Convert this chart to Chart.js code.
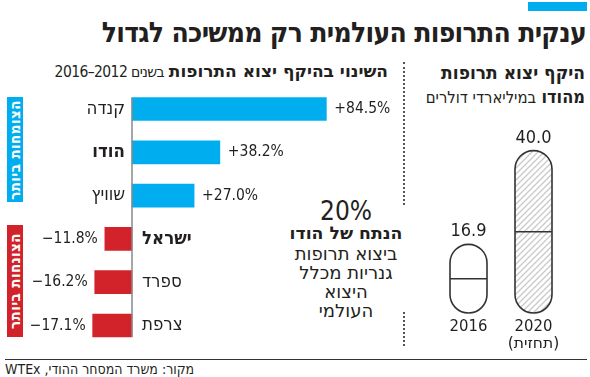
<!DOCTYPE html>
<html lang="he">
<head>
<meta charset="utf-8">
<title>ענקית התרופות העולמית</title>
<script src="https://cdn.jsdelivr.net/npm/chart.js@4"></script>
<style>
    html, body { margin: 0; padding: 0; background: #fff; }
    body { width: 590px; height: 377px; position: relative; overflow: hidden;
           font-family: "DejaVu Sans Condensed", "DejaVu Sans", sans-serif; color: #231f20; }
    .abs { position: absolute; white-space: nowrap; }
    .rtl { direction: rtl; }
    .wide { font-family: "DejaVu Sans", sans-serif; }
    #topbar { left: 528px; top: 2px; width: 59px; height: 9px; background: #00aeef; }
    #title { right: 4px; top: 16px; font-size: 28px; font-weight: bold; letter-spacing: -0.7px; }
    #subLeft { right: 202px; top: 61px; font-size: 17px; }
    #subLeft .yrs { font-size: 15.5px; letter-spacing: -0.6px; }
    #subRight { right: 5px; top: 60px; font-size: 19px; line-height: 24px; text-align: right; }
    #subRight .reg { font-size: 16.5px; }
    b { font-weight: bold; }
    .band { width: 16px; left: 7px; color: #fff; font-weight: bold; font-size: 15px; letter-spacing: 0.4px; }
    .band span { position: absolute; left: 50%; top: 50%; transform: translate(-50%, -50%) rotate(-90deg); }
    #bandUp { top: 97px; height: 105px; background: #00aeef; }
    #bandDown { top: 225px; height: 112px; background: #d2232a; }
    .share { left: 266px; width: 160px; text-align: center; font-size: 18px; line-height: 19px;
             font-family: "DejaVu Sans", sans-serif; }
    .dots { left: 403px; width: 0; border-left: 2px dotted #555; }
    #bottomLine { left: 5px; top: 359px; width: 582px; height: 0; border-top: 1.5px solid #333; }
    #source { left: 5px; top: 361px; font-size: 14px; }
    canvas { position: absolute; }
</style>
</head>
<body>
<div id="topbar" class="abs"></div>
<div id="title" class="abs rtl">ענקית התרופות העולמית רק ממשיכה לגדול</div>
<div id="subLeft" class="abs rtl"><b class="wide">השינוי בהיקף יצוא התרופות</b> <span class="yrs">בשנים 2012–2016</span></div>
<div id="subRight" class="abs rtl"><b>היקף יצוא תרופות</b><br><b style="font-size:18px">מהודו</b> <span class="reg">במיליארדי דולרים</span></div>
<div id="bandUp" class="abs band rtl"><span>הצומחות ביותר</span></div>
<div id="bandDown" class="abs band rtl"><span>הצונחות ביותר</span></div>

<div class="abs share rtl" style="top:197px;font-size:26px;line-height:28px;font-family:'DejaVu Sans Condensed','DejaVu Sans',sans-serif">20%</div>
<div class="abs share rtl" style="top:224px;font-weight:bold;font-size:17.3px">הנתח של הודו</div>
<div class="abs share rtl" style="top:244px">ביצוא תרופות</div>
<div class="abs share rtl" style="top:263px">גנריות מכלל</div>
<div class="abs share rtl" style="top:282px">היצוא</div>
<div class="abs share rtl" style="top:301px">העולמי</div>

<div class="abs dots" style="top:62px;height:143px"></div>
<div class="abs dots" style="top:312px;height:34px"></div>
<div id="bottomLine" class="abs"></div>
<div id="source" class="abs rtl">מקור: משרד המסחר ההודי, WTEx</div>

<canvas id="changeChart" width="400" height="265" style="left:0;top:85px"></canvas>
<canvas id="pillChart" width="130" height="245" style="left:436px;top:110px"></canvas>

<script>
// Change in drug exports 2012-2016 (%)
const countries = ['קנדה', 'הודו', 'שוויץ', 'ישראל', 'ספרד', 'צרפת'];
const changePct = [84.5, 38.2, 27.0, -11.8, -16.2, -17.1];
const boldCountries = ['הודו', 'ישראל'];

// India drug exports, billions of dollars
const years = ['2016', '2020'];
const yearNotes = ['', '(תחזית)'];
const exportsBn = [16.9, 40.0];

const BLUE = '#00aeef';
const RED = '#d2232a';
const INK = '#231f20';
const FONT = '"DejaVu Sans Condensed", "DejaVu Sans", sans-serif';
const HEB = '"DejaVu Sans", sans-serif';

function fmtPct(v) {
    const s = Math.abs(v).toFixed(1) + '%';
    return (v >= 0 ? '+' : '\u2212') + s;
}

// axis line + category names + value labels
const changeLabels = {
    id: 'changeLabels',
    afterDatasetsDraw(chart) {
        const ctx = chart.ctx;
        const xs = chart.scales.x;
        const x0 = xs.getPixelForValue(0);
        const bars = chart.getDatasetMeta(0).data;

        ctx.save();
        ctx.strokeStyle = '#8a8a8a';
        ctx.lineWidth = 1.5;
        ctx.beginPath();
        ctx.moveTo(x0, bars[0].y - bars[0].height / 2);
        ctx.lineTo(x0, bars[bars.length - 1].y + bars[bars.length - 1].height / 2);
        ctx.stroke();

        ctx.fillStyle = INK;
        ctx.textBaseline = 'middle';
        bars.forEach((bar, i) => {
            const v = changePct[i];
            const bold = boldCountries.includes(countries[i]);
            ctx.font = (bold ? 'bold ' : '') + '18.5px ' + FONT;
            if (v >= 0) {
                ctx.textAlign = 'right';
                ctx.fillText(countries[i], x0 - 7, bar.y);
            } else {
                ctx.textAlign = 'left';
                ctx.fillText(countries[i], x0 + 10, bar.y);
            }
            ctx.font = '15.5px ' + FONT;
            if (v >= 0) {
                ctx.textAlign = 'left';
                ctx.fillText(fmtPct(v), bar.x + 8, bar.y);
            } else {
                ctx.textAlign = 'right';
                ctx.fillText(fmtPct(v), bar.x - 7, bar.y);
            }
        });
        ctx.restore();
    }
};

new Chart(document.getElementById('changeChart'), {
    type: 'bar',
    data: {
        labels: countries,
        datasets: [{
            data: changePct,
            backgroundColor: changePct.map(v => v >= 0 ? BLUE : RED),
            barThickness: 23
        }]
    },
    options: {
        indexAxis: 'y',
        responsive: false,
        animation: false,
        layout: { padding: { left: 40, right: 15, top: 2.35, bottom: 2.85 } },
        scales: {
            x: { display: false, min: -40, max: 110 },
            y: { display: false }
        },
        plugins: { legend: { display: false }, tooltip: { enabled: false } }
    },
    plugins: [changeLabels]
});

// hatch pattern for the forecast pill
function makeHatch() {
    const c = document.createElement('canvas');
    c.width = 6; c.height = 6;
    const g = c.getContext('2d');
    g.fillStyle = '#fff';
    g.fillRect(0, 0, 6, 6);
    g.strokeStyle = '#c9c9c9';
    g.lineWidth = 1.3;
    g.beginPath();
    g.moveTo(0, 6); g.lineTo(6, 0);
    g.moveTo(-3, 3); g.lineTo(3, -3);
    g.moveTo(3, 9); g.lineTo(9, 3);
    g.stroke();
    return g.createPattern(c, 'repeat');
}

function pillPath(ctx, cx, top, bottom, w) {
    const r = w / 2;
    ctx.beginPath();
    ctx.moveTo(cx - r, top + r);
    ctx.arc(cx, top + r, r, Math.PI, 0);
    ctx.lineTo(cx + r, bottom - r);
    ctx.arc(cx, bottom - r, r, 0, Math.PI);
    ctx.closePath();
}

// bars drawn as pills
const pillDraw = {
    id: 'pillDraw',
    afterDatasetsDraw(chart) {
        const ctx = chart.ctx;
        const hatch = makeHatch();
        const bars = chart.getDatasetMeta(0).data;
        ctx.save();
        bars.forEach((bar, i) => {
            const w = bar.width;
            const top = bar.y, bottom = bar.base;
            pillPath(ctx, bar.x, top, bottom, w);
            ctx.fillStyle = i === 1 ? hatch : '#fff';
            ctx.fill();
            ctx.strokeStyle = '#333';
            ctx.lineWidth = 1.6;
            ctx.stroke();
            const mid = (top + bottom) / 2;
            ctx.beginPath();
            ctx.moveTo(bar.x - w / 2, mid);
            ctx.lineTo(bar.x + w / 2, mid);
            ctx.stroke();

            ctx.fillStyle = INK;
            ctx.textAlign = 'center';
            ctx.textBaseline = 'alphabetic';
            ctx.font = '18px ' + FONT;
            ctx.fillText(exportsBn[i].toFixed(1), bar.x, top - 8);

            ctx.textBaseline = 'middle';
            ctx.font = '16.5px ' + FONT;
            ctx.fillText(years[i], bar.x, bottom + 14);
            if (yearNotes[i]) {
                ctx.font = '15.5px ' + HEB;
                ctx.fillText(yearNotes[i], bar.x, bottom + 31);
            }
        });
        ctx.restore();
    }
};

new Chart(document.getElementById('pillChart'), {
    type: 'bar',
    data: {
        labels: years,
        datasets: [{
            data: exportsBn,
            backgroundColor: 'rgba(0,0,0,0)',
            barThickness: 37
        }]
    },
    options: {
        responsive: false,
        animation: false,
        layout: { padding: { left: 0, right: 0, top: 0, bottom: 42 } },
        scales: {
            x: { display: false },
            y: { display: false, min: 0, max: 50 }
        },
        plugins: { legend: { display: false }, tooltip: { enabled: false } }
    },
    plugins: [pillDraw]
});
</script>
</body>
</html>
